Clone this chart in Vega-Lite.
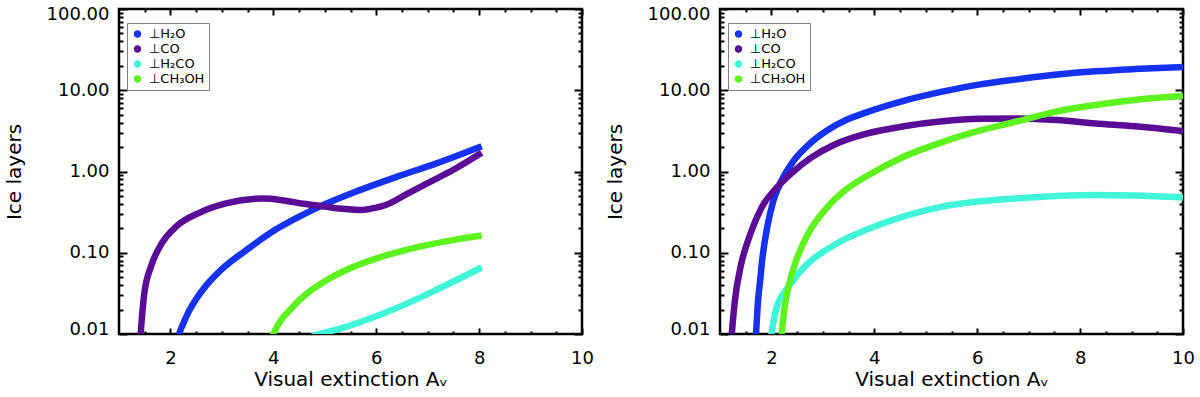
{
  "$schema": "https://vega.github.io/schema/vega-lite/v6.json",
  "background": "white",
  "padding": {"left": 2, "top": 3, "right": 0, "bottom": 0},
  "spacing": 8,
  "config": {
    "view": {"stroke": "black", "strokeWidth": 2.5},
    "font": "DejaVu Sans",
    "axis": {"grid": false, "domain": false, "labelFont": "DejaVu Sans", "labelFontSize": 18, "labelColor": "black", "titleFont": "DejaVu Sans", "titleFontSize": 20, "titleFontWeight": "normal", "titleColor": "black", "tickColor": "black", "tickWidth": 2},
    "legend": {"orient": "none", "legendX": 8, "legendY": 14, "strokeColor": "#808080", "fillColor": "white", "padding": 4, "labelFont": "DejaVu Sans", "labelFontSize": 13, "labelColor": "black", "symbolType": "circle", "symbolSize": 12, "symbolStrokeWidth": 4, "rowPadding": 1, "labelOffset": 5, "title": null}
  },
  "resolve": {"scale": {"color": "independent"}, "legend": {"color": "independent"}},
  "datasets": {
    "left": [
      {"s": "⊥H₂O", "x": 2.13, "y": 0.008}, {"s": "⊥H₂O", "x": 2.17, "y": 0.01}, {"s": "⊥H₂O", "x": 2.25, "y": 0.0135}, {"s": "⊥H₂O", "x": 2.35, "y": 0.0186}, {"s": "⊥H₂O", "x": 2.5, "y": 0.027}, {"s": "⊥H₂O", "x": 2.7, "y": 0.04}, {"s": "⊥H₂O", "x": 3.0, "y": 0.063}, {"s": "⊥H₂O", "x": 3.45, "y": 0.105}, {"s": "⊥H₂O", "x": 3.97, "y": 0.18}, {"s": "⊥H₂O", "x": 4.56, "y": 0.29}, {"s": "⊥H₂O", "x": 4.94, "y": 0.38}, {"s": "⊥H₂O", "x": 5.68, "y": 0.59}, {"s": "⊥H₂O", "x": 6.42, "y": 0.87}, {"s": "⊥H₂O", "x": 7.17, "y": 1.26}, {"s": "⊥H₂O", "x": 8.05, "y": 2.05},
      {"s": "⊥CO", "x": 1.41, "y": 0.008}, {"s": "⊥CO", "x": 1.43, "y": 0.012}, {"s": "⊥CO", "x": 1.49, "y": 0.031}, {"s": "⊥CO", "x": 1.63, "y": 0.07}, {"s": "⊥CO", "x": 1.83, "y": 0.13}, {"s": "⊥CO", "x": 2.11, "y": 0.21}, {"s": "⊥CO", "x": 2.56, "y": 0.31}, {"s": "⊥CO", "x": 3.08, "y": 0.405}, {"s": "⊥CO", "x": 3.82, "y": 0.465}, {"s": "⊥CO", "x": 4.2, "y": 0.44}, {"s": "⊥CO", "x": 4.6, "y": 0.4}, {"s": "⊥CO", "x": 5.0, "y": 0.37}, {"s": "⊥CO", "x": 5.4, "y": 0.345}, {"s": "⊥CO", "x": 5.7, "y": 0.335}, {"s": "⊥CO", "x": 6.0, "y": 0.36}, {"s": "⊥CO", "x": 6.2, "y": 0.39}, {"s": "⊥CO", "x": 6.6, "y": 0.53}, {"s": "⊥CO", "x": 7.0, "y": 0.72}, {"s": "⊥CO", "x": 7.5, "y": 1.05}, {"s": "⊥CO", "x": 8.05, "y": 1.7},
      {"s": "⊥H₂CO", "x": 4.75, "y": 0.0095}, {"s": "⊥H₂CO", "x": 5.31, "y": 0.0117}, {"s": "⊥H₂CO", "x": 6.05, "y": 0.017}, {"s": "⊥H₂CO", "x": 6.65, "y": 0.0245}, {"s": "⊥H₂CO", "x": 7.17, "y": 0.035}, {"s": "⊥H₂CO", "x": 8.05, "y": 0.066},
      {"s": "⊥CH₃OH", "x": 3.97, "y": 0.009}, {"s": "⊥CH₃OH", "x": 4.0, "y": 0.01}, {"s": "⊥CH₃OH", "x": 4.12, "y": 0.0139}, {"s": "⊥CH₃OH", "x": 4.34, "y": 0.0203}, {"s": "⊥CH₃OH", "x": 4.64, "y": 0.031}, {"s": "⊥CH₃OH", "x": 5.01, "y": 0.045}, {"s": "⊥CH₃OH", "x": 5.46, "y": 0.063}, {"s": "⊥CH₃OH", "x": 6.05, "y": 0.087}, {"s": "⊥CH₃OH", "x": 6.8, "y": 0.117}, {"s": "⊥CH₃OH", "x": 7.54, "y": 0.145}, {"s": "⊥CH₃OH", "x": 8.05, "y": 0.163}
    ],
    "right": [
      {"s": "⊥H₂O", "x": 1.69, "y": 0.008}, {"s": "⊥H₂O", "x": 1.7, "y": 0.01}, {"s": "⊥H₂O", "x": 1.74, "y": 0.026}, {"s": "⊥H₂O", "x": 1.78, "y": 0.045}, {"s": "⊥H₂O", "x": 1.82, "y": 0.081}, {"s": "⊥H₂O", "x": 1.92, "y": 0.21}, {"s": "⊥H₂O", "x": 2.04, "y": 0.44}, {"s": "⊥H₂O", "x": 2.19, "y": 0.76}, {"s": "⊥H₂O", "x": 2.41, "y": 1.3}, {"s": "⊥H₂O", "x": 2.71, "y": 2.1}, {"s": "⊥H₂O", "x": 3.08, "y": 3.2}, {"s": "⊥H₂O", "x": 3.45, "y": 4.3}, {"s": "⊥H₂O", "x": 3.83, "y": 5.3}, {"s": "⊥H₂O", "x": 4.57, "y": 7.4}, {"s": "⊥H₂O", "x": 5.32, "y": 9.6}, {"s": "⊥H₂O", "x": 6.06, "y": 11.8}, {"s": "⊥H₂O", "x": 6.81, "y": 13.7}, {"s": "⊥H₂O", "x": 7.55, "y": 15.6}, {"s": "⊥H₂O", "x": 8.3, "y": 17.1}, {"s": "⊥H₂O", "x": 9.05, "y": 18.2}, {"s": "⊥H₂O", "x": 10, "y": 19.3},
      {"s": "⊥CO", "x": 1.22, "y": 0.008}, {"s": "⊥CO", "x": 1.23, "y": 0.01}, {"s": "⊥CO", "x": 1.29, "y": 0.026}, {"s": "⊥CO", "x": 1.4, "y": 0.067}, {"s": "⊥CO", "x": 1.59, "y": 0.17}, {"s": "⊥CO", "x": 1.81, "y": 0.36}, {"s": "⊥CO", "x": 2.11, "y": 0.64}, {"s": "⊥CO", "x": 2.41, "y": 0.98}, {"s": "⊥CO", "x": 2.78, "y": 1.49}, {"s": "⊥CO", "x": 3.23, "y": 2.15}, {"s": "⊥CO", "x": 3.83, "y": 2.9}, {"s": "⊥CO", "x": 4.57, "y": 3.6}, {"s": "⊥CO", "x": 5.32, "y": 4.15}, {"s": "⊥CO", "x": 6.06, "y": 4.45}, {"s": "⊥CO", "x": 6.81, "y": 4.5}, {"s": "⊥CO", "x": 7.55, "y": 4.3}, {"s": "⊥CO", "x": 8.3, "y": 3.9}, {"s": "⊥CO", "x": 9.05, "y": 3.6}, {"s": "⊥CO", "x": 10, "y": 3.15},
      {"s": "⊥H₂CO", "x": 1.98, "y": 0.008}, {"s": "⊥H₂CO", "x": 2.0, "y": 0.01}, {"s": "⊥H₂CO", "x": 2.11, "y": 0.022}, {"s": "⊥H₂CO", "x": 2.33, "y": 0.038}, {"s": "⊥H₂CO", "x": 2.71, "y": 0.074}, {"s": "⊥H₂CO", "x": 3.08, "y": 0.11}, {"s": "⊥H₂CO", "x": 3.45, "y": 0.149}, {"s": "⊥H₂CO", "x": 3.83, "y": 0.19}, {"s": "⊥H₂CO", "x": 4.57, "y": 0.28}, {"s": "⊥H₂CO", "x": 5.32, "y": 0.37}, {"s": "⊥H₂CO", "x": 6.06, "y": 0.43}, {"s": "⊥H₂CO", "x": 6.81, "y": 0.47}, {"s": "⊥H₂CO", "x": 7.55, "y": 0.5}, {"s": "⊥H₂CO", "x": 8.3, "y": 0.515}, {"s": "⊥H₂CO", "x": 9.05, "y": 0.505}, {"s": "⊥H₂CO", "x": 10, "y": 0.48},
      {"s": "⊥CH₃OH", "x": 2.19, "y": 0.008}, {"s": "⊥CH₃OH", "x": 2.2, "y": 0.01}, {"s": "⊥CH₃OH", "x": 2.26, "y": 0.022}, {"s": "⊥CH₃OH", "x": 2.33, "y": 0.038}, {"s": "⊥CH₃OH", "x": 2.48, "y": 0.08}, {"s": "⊥CH₃OH", "x": 2.71, "y": 0.17}, {"s": "⊥CH₃OH", "x": 3.08, "y": 0.36}, {"s": "⊥CH₃OH", "x": 3.45, "y": 0.6}, {"s": "⊥CH₃OH", "x": 3.83, "y": 0.86}, {"s": "⊥CH₃OH", "x": 4.57, "y": 1.52}, {"s": "⊥CH₃OH", "x": 5.32, "y": 2.3}, {"s": "⊥CH₃OH", "x": 6.06, "y": 3.2}, {"s": "⊥CH₃OH", "x": 6.81, "y": 4.2}, {"s": "⊥CH₃OH", "x": 7.55, "y": 5.5}, {"s": "⊥CH₃OH", "x": 8.3, "y": 6.6}, {"s": "⊥CH₃OH", "x": 9.05, "y": 7.6}, {"s": "⊥CH₃OH", "x": 10, "y": 8.5}
    ]
  },
  "hconcat": [
    {
      "width": 463, "height": 325,
      "data": {"name": "left"},
      "resolve": {"scale": {"x": "independent", "y": "independent"}, "axis": {"x": "independent", "y": "independent"}},
      "layer": [
        {"mark": {"type": "line", "strokeWidth": 6.5, "clip": true, "interpolate": "monotone"},
         "encoding": {
           "x": {"field": "x", "type": "quantitative", "scale": {"domain": [1, 10], "nice": false, "zero": false}, "axis": {"orient": "bottom", "values": [2, 4, 6, 8, 10], "ticks": false, "labelPadding": 15, "labelFlush": false, "title": "Visual extinction Aᵥ", "titlePadding": 2}},
           "y": {"field": "y", "type": "quantitative", "scale": {"type": "log", "domain": [0.01, 100], "nice": false}, "axis": {"orient": "left", "values": [0.01, 0.1, 1, 10, 100], "format": ".2f", "ticks": false, "labelPadding": 10, "labelFlush": true, "labelFlushOffset": 4, "title": "Ice layers", "titlePadding": 22, "minExtent": 73, "maxExtent": 73}},
           "color": {"field": "s", "type": "nominal", "scale": {"domain": ["⊥H₂O", "⊥CO", "⊥H₂CO", "⊥CH₃OH"], "range": ["#1432f0", "#5a0c96", "#40f5d8", "#5ef21e"]}, "legend": {"orient": "none", "legendX": 8, "legendY": 14, "clipHeight": 14, "rowPadding": 1, "symbolSize": 12, "symbolStrokeWidth": 4, "labelFontSize": 13, "padding": 4}}
         }},
        {"mark": {"type": "point", "opacity": 0},
         "encoding": {
           "x": {"field": "x", "type": "quantitative", "scale": {"domain": [1, 10], "nice": false, "zero": false}, "axis": {"orient": "bottom", "values": [2, 4, 6, 8, 10], "labels": false, "tickSize": -6, "title": null, "minExtent": 0, "maxExtent": 0}},
           "y": {"field": "y", "type": "quantitative", "scale": {"type": "log", "domain": [0.01, 100], "nice": false}, "axis": {"orient": "left", "values": [0.01, 0.1, 1, 10, 100], "labels": false, "tickSize": -8, "title": null, "minExtent": 0, "maxExtent": 0}}
         }},
        {"mark": {"type": "point", "opacity": 0},
         "encoding": {
           "x": {"field": "x", "type": "quantitative", "scale": {"domain": [1, 10], "nice": false, "zero": false}, "axis": {"orient": "top", "values": [2, 4, 6, 8, 10], "labels": false, "tickSize": -6, "title": null, "minExtent": 0, "maxExtent": 0}},
           "y": {"field": "y", "type": "quantitative", "scale": {"type": "log", "domain": [0.01, 100], "nice": false}, "axis": {"orient": "right", "values": [0.01, 0.1, 1, 10, 100], "labels": false, "tickSize": -8, "title": null, "minExtent": 0, "maxExtent": 0}}
         }},
        {"mark": {"type": "point", "opacity": 0},
         "encoding": {
           "x": {"field": "x", "type": "quantitative", "scale": {"domain": [1, 10], "nice": false, "zero": false}, "axis": {"orient": "bottom", "values": [1.5, 2.5, 3, 3.5, 4.5, 5, 5.5, 6.5, 7, 7.5, 8.5, 9, 9.5], "labels": false, "tickSize": -3, "title": null, "minExtent": 0, "maxExtent": 0}},
           "y": {"field": "y", "type": "quantitative", "scale": {"type": "log", "domain": [0.01, 100], "nice": false}, "axis": {"orient": "left", "values": [0.02, 0.03, 0.04, 0.05, 0.06, 0.07, 0.08, 0.09, 0.2, 0.3, 0.4, 0.5, 0.6, 0.7, 0.8, 0.9, 2, 3, 4, 5, 6, 7, 8, 9, 20, 30, 40, 50, 60, 70, 80, 90], "labels": false, "tickSize": -4, "title": null, "minExtent": 0, "maxExtent": 0}}
         }},
        {"mark": {"type": "point", "opacity": 0},
         "encoding": {
           "x": {"field": "x", "type": "quantitative", "scale": {"domain": [1, 10], "nice": false, "zero": false}, "axis": {"orient": "top", "values": [1.5, 2.5, 3, 3.5, 4.5, 5, 5.5, 6.5, 7, 7.5, 8.5, 9, 9.5], "labels": false, "tickSize": -3, "title": null, "minExtent": 0, "maxExtent": 0}},
           "y": {"field": "y", "type": "quantitative", "scale": {"type": "log", "domain": [0.01, 100], "nice": false}, "axis": {"orient": "right", "values": [0.02, 0.03, 0.04, 0.05, 0.06, 0.07, 0.08, 0.09, 0.2, 0.3, 0.4, 0.5, 0.6, 0.7, 0.8, 0.9, 2, 3, 4, 5, 6, 7, 8, 9, 20, 30, 40, 50, 60, 70, 80, 90], "labels": false, "tickSize": -4, "title": null, "minExtent": 0, "maxExtent": 0}}
         }}
      ]
    },
    {
      "width": 463, "height": 325,
      "data": {"name": "right"},
      "resolve": {"scale": {"x": "independent", "y": "independent"}, "axis": {"x": "independent", "y": "independent"}},
      "layer": [
        {"mark": {"type": "line", "strokeWidth": 6.5, "clip": true, "interpolate": "monotone"},
         "encoding": {
           "x": {"field": "x", "type": "quantitative", "scale": {"domain": [1, 10], "nice": false, "zero": false}, "axis": {"orient": "bottom", "values": [2, 4, 6, 8, 10], "ticks": false, "labelPadding": 15, "labelFlush": false, "title": "Visual extinction Aᵥ", "titlePadding": 2}},
           "y": {"field": "y", "type": "quantitative", "scale": {"type": "log", "domain": [0.01, 100], "nice": false}, "axis": {"orient": "left", "values": [0.01, 0.1, 1, 10, 100], "format": ".2f", "ticks": false, "labelPadding": 10, "labelFlush": true, "labelFlushOffset": 4, "title": "Ice layers", "titlePadding": 22, "minExtent": 73, "maxExtent": 73}},
           "color": {"field": "s", "type": "nominal", "scale": {"domain": ["⊥H₂O", "⊥CO", "⊥H₂CO", "⊥CH₃OH"], "range": ["#1432f0", "#5a0c96", "#40f5d8", "#5ef21e"]}, "legend": {"orient": "none", "legendX": 8, "legendY": 14, "clipHeight": 14, "rowPadding": 1, "symbolSize": 12, "symbolStrokeWidth": 4, "labelFontSize": 13, "padding": 4}}
         }},
        {"mark": {"type": "point", "opacity": 0},
         "encoding": {
           "x": {"field": "x", "type": "quantitative", "scale": {"domain": [1, 10], "nice": false, "zero": false}, "axis": {"orient": "bottom", "values": [2, 4, 6, 8, 10], "labels": false, "tickSize": -6, "title": null, "minExtent": 0, "maxExtent": 0}},
           "y": {"field": "y", "type": "quantitative", "scale": {"type": "log", "domain": [0.01, 100], "nice": false}, "axis": {"orient": "left", "values": [0.01, 0.1, 1, 10, 100], "labels": false, "tickSize": -8, "title": null, "minExtent": 0, "maxExtent": 0}}
         }},
        {"mark": {"type": "point", "opacity": 0},
         "encoding": {
           "x": {"field": "x", "type": "quantitative", "scale": {"domain": [1, 10], "nice": false, "zero": false}, "axis": {"orient": "top", "values": [2, 4, 6, 8, 10], "labels": false, "tickSize": -6, "title": null, "minExtent": 0, "maxExtent": 0}},
           "y": {"field": "y", "type": "quantitative", "scale": {"type": "log", "domain": [0.01, 100], "nice": false}, "axis": {"orient": "right", "values": [0.01, 0.1, 1, 10, 100], "labels": false, "tickSize": -8, "title": null, "minExtent": 0, "maxExtent": 0}}
         }},
        {"mark": {"type": "point", "opacity": 0},
         "encoding": {
           "x": {"field": "x", "type": "quantitative", "scale": {"domain": [1, 10], "nice": false, "zero": false}, "axis": {"orient": "bottom", "values": [1.5, 2.5, 3, 3.5, 4.5, 5, 5.5, 6.5, 7, 7.5, 8.5, 9, 9.5], "labels": false, "tickSize": -3, "title": null, "minExtent": 0, "maxExtent": 0}},
           "y": {"field": "y", "type": "quantitative", "scale": {"type": "log", "domain": [0.01, 100], "nice": false}, "axis": {"orient": "left", "values": [0.02, 0.03, 0.04, 0.05, 0.06, 0.07, 0.08, 0.09, 0.2, 0.3, 0.4, 0.5, 0.6, 0.7, 0.8, 0.9, 2, 3, 4, 5, 6, 7, 8, 9, 20, 30, 40, 50, 60, 70, 80, 90], "labels": false, "tickSize": -4, "title": null, "minExtent": 0, "maxExtent": 0}}
         }},
        {"mark": {"type": "point", "opacity": 0},
         "encoding": {
           "x": {"field": "x", "type": "quantitative", "scale": {"domain": [1, 10], "nice": false, "zero": false}, "axis": {"orient": "top", "values": [1.5, 2.5, 3, 3.5, 4.5, 5, 5.5, 6.5, 7, 7.5, 8.5, 9, 9.5], "labels": false, "tickSize": -3, "title": null, "minExtent": 0, "maxExtent": 0}},
           "y": {"field": "y", "type": "quantitative", "scale": {"type": "log", "domain": [0.01, 100], "nice": false}, "axis": {"orient": "right", "values": [0.02, 0.03, 0.04, 0.05, 0.06, 0.07, 0.08, 0.09, 0.2, 0.3, 0.4, 0.5, 0.6, 0.7, 0.8, 0.9, 2, 3, 4, 5, 6, 7, 8, 9, 20, 30, 40, 50, 60, 70, 80, 90], "labels": false, "tickSize": -4, "title": null, "minExtent": 0, "maxExtent": 0}}
         }}
      ]
    }
  ]
}
